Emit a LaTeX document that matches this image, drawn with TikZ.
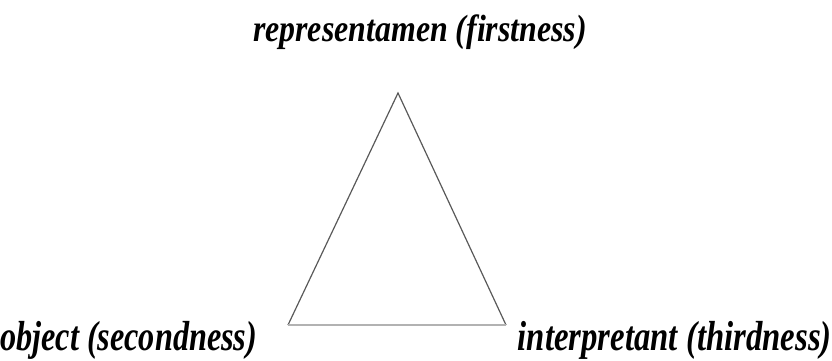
\documentclass[tikz,border=0pt]{standalone}
\usepackage{fontspec}
\setmainfont{Liberation Serif}
\usepackage{graphicx}
\begin{document}
\begin{tikzpicture}[x=1pt,y=-1pt,
  lbl/.style={inner sep=0pt, font=\bfseries\itshape},
  side/.style={draw=black!65, line width=1.2pt},
  base/.style={draw=black!30, line width=2pt}]
\useasboundingbox (0,0) rectangle (832,361);
\coordinate (top) at (398,93);
\coordinate (left) at (288,325);
\coordinate (right) at (506,325);
\draw[side] (left) -- (top) -- (right);
\draw[base] (left) -- (right);
\node[lbl, anchor=base] (rep) at (420,42) {\resizebox{334pt}{\height}{\fontsize{38}{38}\selectfont representamen (firstness)}};
\node[lbl, anchor=base west] (obj) at (0,350) {\resizebox{257pt}{\height}{\fontsize{42}{42}\selectfont object (secondness)}};
\node[lbl, anchor=base east] (int) at (832,350) {\resizebox{314pt}{\height}{\fontsize{42}{42}\selectfont interpretant (thirdness)}};
\end{tikzpicture}
\end{document}
